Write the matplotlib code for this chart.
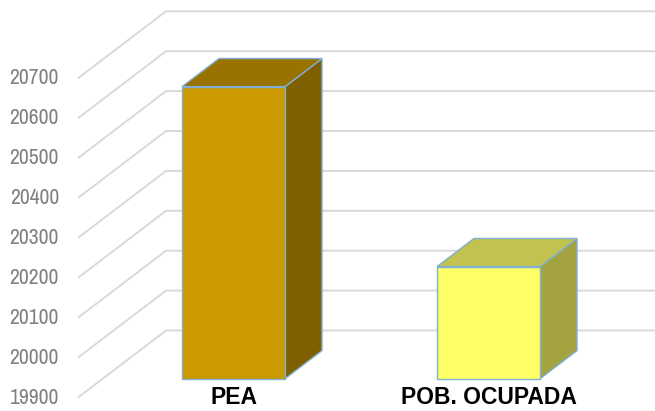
import matplotlib
matplotlib.use("Agg")
import matplotlib.pyplot as plt
from matplotlib.patches import Polygon
from matplotlib import font_manager

# ---- data ----
categories = ["PEA", "POB. OCUPADA"]
values = [20632, 20181]
tick_values = [19900, 20000, 20100, 20200, 20300, 20400, 20500, 20600, 20700]
tick_labels = [str(t) for t in tick_values]

# ---- style ----
front_colors = ["#CC9900", "#FFFF66"]
top_colors = ["#997300", "#C2C24E"]
side_colors = ["#7F6000", "#A3A341"]
edge_color = "#7FAFD4"
grid_color = "#D9D9D9"
tick_color = "#808080"

W, H, DPI = 655, 411, 100
fig = plt.figure(figsize=(W / DPI, H / DPI), dpi=DPI)
ax = fig.add_axes([0, 0, 1, 1])
ax.set_axis_off()

# scales (oblique 3D imitation)
YMIN = tick_values[0]
px_per_val = 0.399          # pixels per value unit
px_per_cat = 255.0          # pixels per category step
y0 = YMIN - 13.5 / px_per_val
ax.set_ylim(y0, y0 + H / px_per_val)
cat0_px = 208.9
ax.set_xlim(-cat0_px / px_per_cat, (W - cat0_px) / px_per_cat)

DX = 88 / px_per_cat        # full-depth shift in x (category units)
DY = 67 / px_per_val        # full-depth shift in y (value units)
WALL_X0 = (78 - cat0_px) / px_per_cat
BAR_D0, BAR_D1 = 0.28, 0.70
HALF_W = 103 / 2 / px_per_cat
xmax = ax.get_xlim()[1]


def proj(x, y, d):
    return (x + d * DX, y + d * DY)


# gridlines: front diagonal on the side wall + horizontal on back wall
for t in tick_values:
    p0 = proj(WALL_X0, t, 0)
    p1 = proj(WALL_X0, t, 1)
    ax.plot([p0[0], p1[0], xmax], [p0[1], p1[1], p1[1]],
            color=grid_color, lw=1.4, zorder=1, solid_capstyle="butt")

# choose a narrow font for tick labels if one is installed
names = sorted({f.name for f in font_manager.fontManager.ttflist})
narrow = [n for n in names if "Narrow" in n]
cond = [n for n in names if "Condensed" in n]
if narrow:
    tick_fam, tick_size, tick_stretch = [narrow[0], "Liberation Sans"], 15.5, "normal"
elif cond:
    tick_fam, tick_size, tick_stretch = [cond[0], "Liberation Sans"], 13.5, "condensed"
else:
    tick_fam, tick_size, tick_stretch = ["Liberation Sans"], 13.5, "normal"

label_x = (59 - cat0_px) / px_per_cat
for t, lab in zip(tick_values, tick_labels):
    ax.text(label_x, t, lab, ha="right", va="center", color=tick_color,
            fontsize=tick_size, family=tick_fam, zorder=3)

# bars
for i, (cat, v) in enumerate(zip(categories, values)):
    xl, xr = i - HALF_W, i + HALF_W
    front = [proj(xl, YMIN, BAR_D0), proj(xr, YMIN, BAR_D0),
             proj(xr, v, BAR_D0), proj(xl, v, BAR_D0)]
    top = [proj(xl, v, BAR_D0), proj(xr, v, BAR_D0),
           proj(xr, v, BAR_D1), proj(xl, v, BAR_D1)]
    side = [proj(xr, YMIN, BAR_D0), proj(xr, YMIN, BAR_D1),
            proj(xr, v, BAR_D1), proj(xr, v, BAR_D0)]
    for poly, col in ((side, side_colors[i]), (top, top_colors[i]),
                      (front, front_colors[i])):
        ax.add_patch(Polygon(poly, closed=True, facecolor=col,
                             edgecolor=edge_color, lw=1.0, zorder=4,
                             joinstyle="miter"))
    cx, _ = proj(i, YMIN, BAR_D0)
    ax.text(cx, YMIN, cat, ha="center", va="center", fontsize=16.5,
            fontweight="bold", family=["Liberation Sans"], color="black",
            zorder=5)

fig.savefig("out.png", dpi=DPI)
